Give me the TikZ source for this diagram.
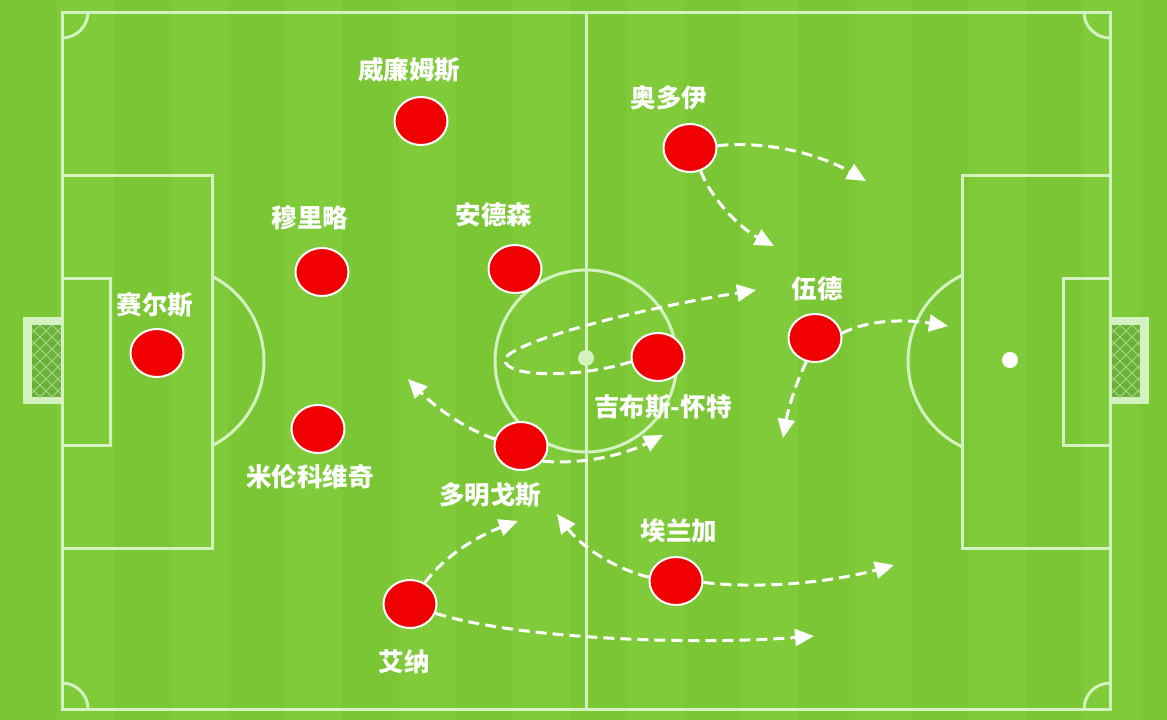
\documentclass[tikz,border=0pt]{standalone}
\usepackage{fontspec}
\newfontfamily\cjk{Noto Sans CJK SC}
\usetikzlibrary{shapes.geometric,arrows.meta}
\definecolor{grassA}{RGB}{123,198,53}
\definecolor{grassB}{RGB}{128,203,58}
\definecolor{pline}{RGB}{212,242,192}
\definecolor{netc}{RGB}{108,178,58}
\definecolor{pred}{RGB}{240,0,0}
\begin{document}
\begin{tikzpicture}[x=1pt,y=-1pt,
  fieldline/.style={draw=pline,line width=3pt},
  player/.style={ellipse,fill=pred,draw=white,line width=2pt,minimum width=53pt,minimum height=48pt,inner sep=0pt},
  lbl/.style={text=white,font=\cjk\bfseries\fontsize{25.5}{28}\selectfont,inner sep=0pt},
  run/.style={draw=white,line width=3pt,dash pattern=on 11pt off 6pt,-{Triangle[length=19pt,width=17pt]}}
]
\useasboundingbox (0,0) rectangle (1167,720);
% grass
\fill[grassA] (0,0) rectangle (1167,720);
\foreach \x in {0,114,...,1140} { \fill[grassB] (\x+57,0) rectangle ++(57,720); }
% goals
\fill[pline] (23,317) rectangle (62,404);
\fill[netc] (32,325) rectangle (62,397);
\fill[pline] (1110,317) rectangle (1149,404);
\fill[netc] (1110,325) rectangle (1140,397);
\begin{scope}
  \clip (32,325) rectangle (62,397);
  \foreach \k in {-80,-68,...,160} { \draw[pline!60!netc,line width=0.8pt] (\k,325) -- ++(80,80); \draw[pline!60!netc,line width=0.8pt] (\k,325) -- ++(-80,80); }
\end{scope}
\begin{scope}
  \clip (1110,325) rectangle (1140,397);
  \foreach \k in {1000,1012,...,1240} { \draw[pline!60!netc,line width=0.8pt] (\k,325) -- ++(80,80); \draw[pline!60!netc,line width=0.8pt] (\k,325) -- ++(-80,80); }
\end{scope}
% field lines
\draw[fieldline] (62,12) rectangle (1110,709);
\draw[fieldline] (586,12) -- (586,709);
\draw[fieldline] (586,361) circle[radius=91pt];
\fill[pline] (586,358) circle[radius=8pt];
\fill[white] (1010,360) circle[radius=8pt];
\draw[fieldline] (62,175) rectangle (212,548);
\draw[fieldline] (962,175) rectangle (1110,548);
\draw[fieldline] (62,278) rectangle (110,445);
\draw[fieldline] (1063,278) rectangle (1110,445);
\begin{scope}
  \clip (213,0) rectangle (400,720);
  \draw[fieldline] (169,361) circle[radius=95pt];
\end{scope}
\begin{scope}
  \clip (700,0) rectangle (961,720);
  \draw[fieldline] (1003,361) circle[radius=95pt];
\end{scope}
\begin{scope}
  \clip (62,12) rectangle (1110,709);
  \draw[fieldline] (62,12) circle[radius=26pt];
  \draw[fieldline] (1110,12) circle[radius=26pt];
  \draw[fieldline] (62,709) circle[radius=26pt];
  \draw[fieldline] (1110,709) circle[radius=26pt];
\end{scope}
% players
\node[player] (williams) at (421,121) {};
\node[player] (murillo) at (322,272) {};
\node[player] (anderson) at (515,269) {};
\node[player] (sels) at (157,353) {};
\node[player] (milenkovic) at (318,429) {};
\node[player] (domingos) at (521,446) {};
\node[player] (gibbs) at (658,357) {};
\node[player] (odoi) at (690,148) {};
\node[player] (wood) at (815,338) {};
\node[player] (elanga) at (676,581) {};
\node[player] (aina) at (410,604) {};
% labels
\node[lbl] (lwilliams) at (409,70) {威廉姆斯};
\node[lbl] (lmurillo) at (310,218) {穆里略};
\node[lbl] (landerson) at (494,215) {安德森};
\node[lbl] (lsels) at (155,305) {赛尔斯};
\node[lbl] (lmilenkovic) at (310,477) {米伦科维奇};
\node[lbl] (ldomingos) at (490,495) {多明戈斯};
\node[lbl] (lgibbs) at (663,407) {吉布斯-怀特};
\node[lbl] (lodoi) at (669,98) {奥多伊};
\node[lbl] (lwood) at (817,289) {伍德};
\node[lbl] (lelanga) at (679,531) {埃兰加};
\node[lbl] (laina) at (404,662) {艾纳};
% run targets
\coordinate (t1) at (866,181);
\coordinate (t2) at (774,246);
\coordinate (t3) at (948,326);
\coordinate (t4) at (783,438);
\coordinate (t5) at (756,290);
\coordinate (t6) at (408,379);
\coordinate (t7) at (663,435);
\coordinate (t8) at (518,521);
\coordinate (t9) at (814,636);
\coordinate (t10) at (557,514);
\coordinate (t11) at (894,565);
% runs
\draw[run] (odoi.5) .. controls (780,140) and (830,160) .. (t1);
\draw[run] (odoi.-65) .. controls (712,200) and (740,228) .. (t2);
\draw[run] (wood.10) .. controls (872,318) and (910,320) .. (t3);
\draw[run] (wood.-110) .. controls (795,385) and (788,410) .. (t4);
\draw[run] (gibbs.190) .. controls (580,378) and (505,378) .. (505,360) .. controls (505,345) and (620,312) .. (t5);
\draw[run] (domingos.165) .. controls (468,430) and (438,410) .. (t6);
\draw[run] (domingos.-35) .. controls (590,465) and (630,452) .. (t7);
\draw[run] (aina.55) .. controls (445,555) and (480,535) .. (t8);
\draw[run] (aina.-20) .. controls (520,640) and (700,645) .. (t9);
\draw[run] (elanga.172) .. controls (612,568) and (580,545) .. (t10);
\draw[run] (elanga.-3) .. controls (770,590) and (840,580) .. (t11);
\end{tikzpicture}
\end{document}
